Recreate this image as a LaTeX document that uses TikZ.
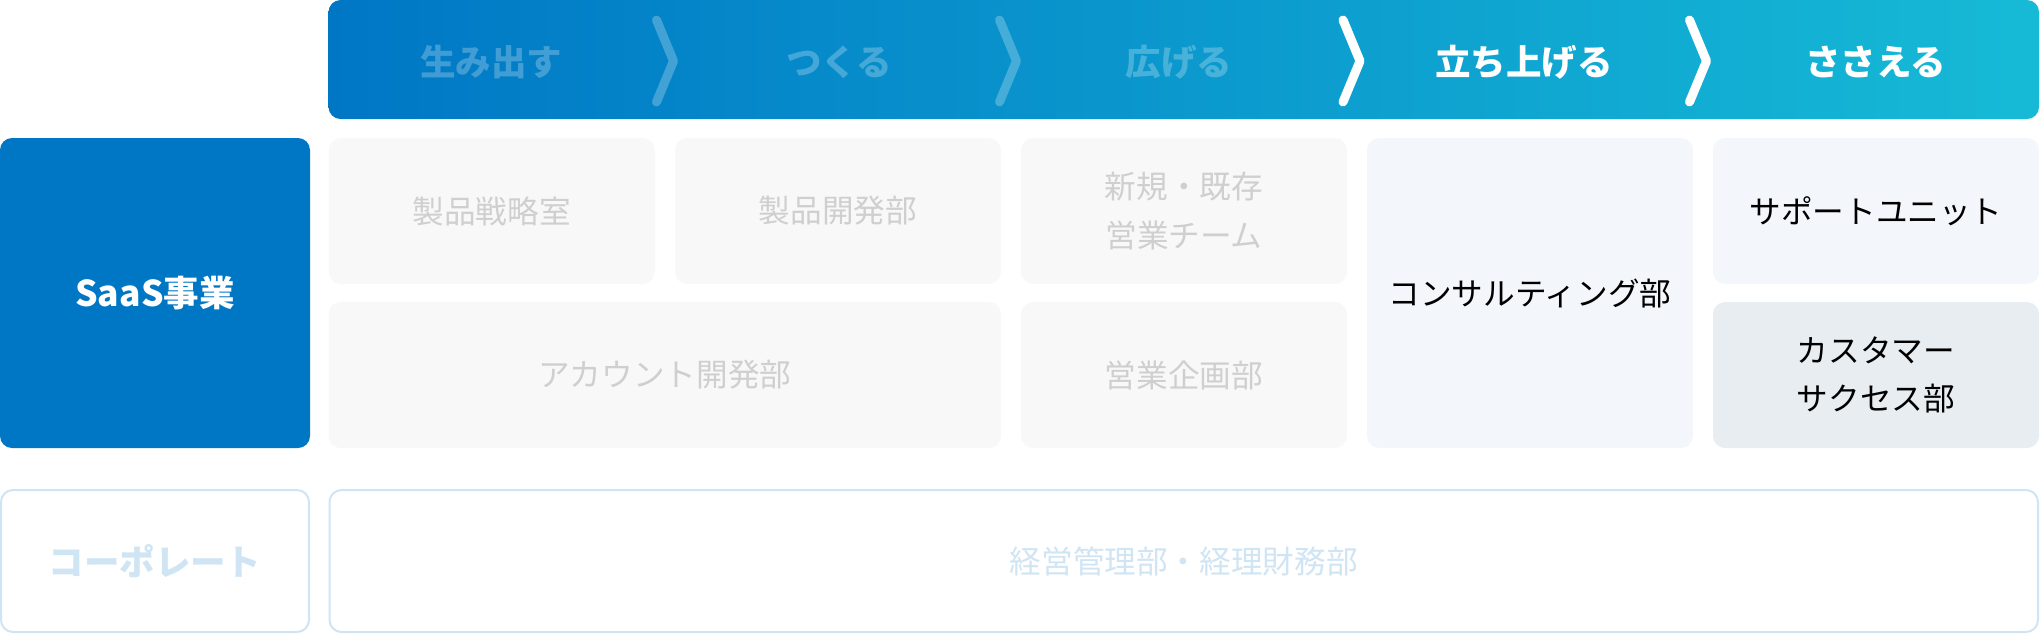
\documentclass[tikz,border=0pt]{standalone}
\usepackage{fontspec}
\setmainfont{Noto Sans CJK JP}

\definecolor{saasblue}{HTML}{0077C5}
\definecolor{headend}{HTML}{16BAD6}
\definecolor{cellgray}{HTML}{F8F8F8}
\definecolor{graytext}{HTML}{CFCFCF}
\definecolor{cellpale}{HTML}{F3F6FA}
\definecolor{cellmid}{HTML}{E8EDF1}
\definecolor{corpline}{HTML}{D0E5F4}

\tikzset{
  cell/.style={rounded corners=1.2mm, minimum width=32.6mm, minimum height=14.6mm,
    inner sep=0pt, align=center, font=\fontsize{9}{13.7}\selectfont},
  dimcell/.style={cell, fill=cellgray, text=graytext},
  livecell/.style={cell, fill=cellpale, text=black},
  headtxt/.style={text=white, font=\fontsize{10.1}{12}\selectfont\bfseries},
  headdim/.style={headtxt, text opacity=0.25},
  chev/.style={white, line width=0.9mm, line cap=round, line join=round}
}

\begin{document}
\begin{tikzpicture}[x=0.1mm,y=-0.1mm]
  \useasboundingbox (0,0) rectangle (2040,634);

  % process bar
  \node[rounded corners=1.2mm, left color=saasblue, right color=headend,
    minimum width=171.05mm, minimum height=11.9mm, inner sep=0pt] (bar) at (1183.75,59.5) {};
  \node[headdim] (create) at (491,62) {生み出す};
  \node[headdim] (make) at (839,62) {つくる};
  \node[headdim] (spread) at (1179,62) {広げる};
  \node[headtxt] (launch) at (1524,62) {立ち上げる};
  \node[headtxt] (sustain) at (1875.5,62) {ささえる};
  \foreach \cx/\op in {665/0.25,1008/0.25,1351.5/1,1698/1}
    \draw[chev, opacity=\op] (\cx-8.5,20) -- (\cx+8.5,61) -- (\cx-8.5,102);

  % SaaS business
  \node[cell, fill=saasblue, text=white, minimum width=31mm, minimum height=31mm,
    font=\fontsize{10.1}{12}\selectfont\bfseries] (saas) at (155,293) {SaaS事業};
  \node[dimcell] (strat) at (491.75,211) {製品戦略室};
  \node[dimcell] (proddev) at (838,211) {製品開発部};
  \node[dimcell] (sales) at (1184,211) {新規・既存\\営業チーム};
  \node[dimcell, minimum width=67.25mm] (acctdev) at (664.75,375) {アカウント開発部};
  \node[dimcell] (salesplan) at (1184,375) {営業企画部};
  \node[livecell, minimum height=31mm] (consult) at (1530,293) {コンサルティング部};
  \node[livecell] (support) at (1876,211) {サポートユニット};
  \node[livecell, fill=cellmid] (success) at (1876,375) {カスタマー\\サクセス部};

  % corporate
  \node[cell, draw=corpline, line width=0.2mm, fill=white, text=corpline,
    minimum width=30.8mm, minimum height=14.2mm,
    font=\fontsize{10.1}{12}\selectfont\bfseries] (corp) at (155,561) {コーポレート};
  \node[cell, draw=corpline, line width=0.2mm, fill=white, text=corpline,
    minimum width=170.85mm, minimum height=14.2mm] (admin) at (1183.75,561) {経営管理部・経理財務部};
\end{tikzpicture}
\end{document}
